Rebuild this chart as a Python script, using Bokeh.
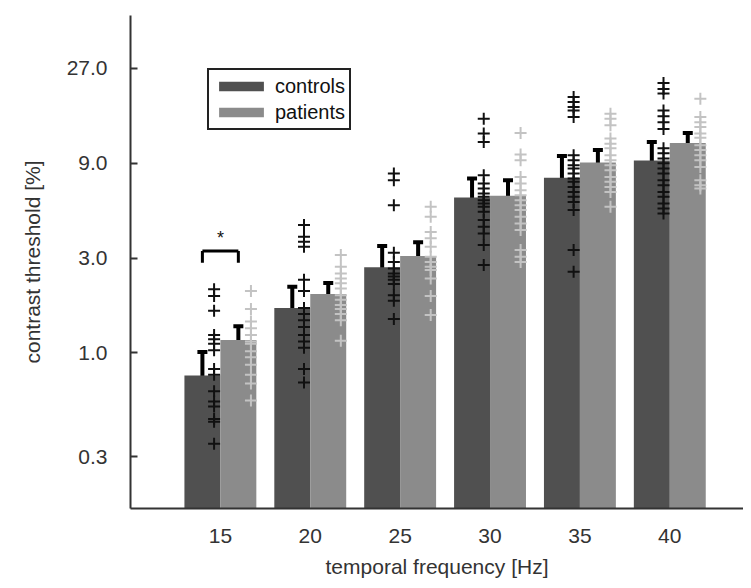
from bokeh.plotting import figure
from bokeh.models import (Range1d, FixedTicker, ColumnDataSource, Whisker, TeeHead,
                          Legend, LegendItem, PrintfTickFormatter)
from bokeh.core.properties import value
from bokeh.embed import file_html
from bokeh.resources import INLINE

# ---------------- data ----------------
freq_labels = ["15", "20", "25", "30", "35", "40"]

ctrl_mean = [0.77, 1.68, 2.70, 6.05, 7.60, 9.30]
pat_mean = [1.16, 1.98, 3.07, 6.17, 9.07, 11.4]

ctrl_lo = [0.59, 1.30, 2.13, 4.89, 5.90, 7.47]
ctrl_hi = [1.01, 2.15, 3.45, 7.54, 9.79, 11.5]
pat_lo = [1.00, 1.74, 2.66, 5.17, 7.93, 10.1]
pat_hi = [1.36, 2.25, 3.60, 7.39, 10.5, 12.8]

ctrl_15 = [2.09, 1.93, 1.63, 1.23, 1.17, 1.11, 1.03, 0.83, 0.775, 0.64, 0.569, 0.537, 0.465, 0.45, 0.349]
ctrl_20 = [4.40, 3.84, 3.62, 3.42, 2.33, 2.05, 1.68, 1.57, 1.46, 1.35, 1.23, 1.14, 1.06, 0.83, 0.71]
ctrl_25 = [7.99, 7.39, 5.53, 3.19, 2.87, 2.66, 2.51, 2.42, 2.33, 2.22, 1.95, 1.83, 1.48]
ctrl_30 = [15.1, 12.7, 11.5, 7.83, 7.12, 6.72, 6.34, 6.10, 5.87, 5.64, 5.43, 5.13, 4.66, 4.31, 3.99, 3.49, 2.77]
ctrl_35 = [19.4, 18.3, 17.3, 16.6, 15.4, 9.88, 9.32, 8.80, 8.47, 7.99, 7.54, 7.26, 6.84, 6.45, 6.10, 5.75, 5.23, 3.29, 2.56]
ctrl_40 = [22.8, 21.3, 20.2, 16.6, 15.5, 14.5, 13.4, 10.7, 10.1, 9.5, 9.0, 8.47, 7.99, 7.39, 6.98, 6.45, 6.10, 5.64, 5.33, 5.03]

pat_15 = [2.05, 1.66, 1.44, 1.33, 1.23, 1.14, 1.11, 1.02, 0.95, 0.87, 0.775, 0.70, 0.576]
pat_20 = [3.11, 2.71, 2.51, 2.37, 2.24, 2.11, 1.95, 1.85, 1.74, 1.66, 1.57, 1.46, 1.15]
pat_25 = [5.43, 4.84, 4.06, 3.77, 3.42, 3.05, 2.87, 2.71, 2.61, 2.37, 1.93, 1.55]
pat_30 = [12.8, 9.95, 9.32, 7.68, 7.12, 6.59, 6.22, 5.87, 5.53, 5.23, 4.84, 4.48, 4.15, 3.29, 3.05, 2.87]
pat_35 = [16.0, 15.1, 14.0, 12.0, 11.3, 10.7, 9.88, 9.32, 8.80, 8.30, 7.68, 7.26, 6.84, 6.45, 5.43]
pat_40 = [19.0, 15.4, 14.5, 13.7, 12.7, 12.1, 11.1, 10.5, 9.88, 9.32, 8.63, 7.39, 6.98, 6.72]

ctrl_points = [ctrl_15, ctrl_20, ctrl_25, ctrl_30, ctrl_35, ctrl_40]
pat_points = [pat_15, pat_20, pat_25, pat_30, pat_35, pat_40]

sig_group = [0]        # index of frequency with significant difference
sig_top = [3.26]
sig_foot = [2.84]
sig_star = [3.78]

y_ticks = [0.3, 1.0, 3.0, 9.0, 27.0]

x_title = "temporal frequency [Hz]"
y_title = "contrast threshold [%]"

# ---------------- styling ----------------
FONT = "Liberation Sans"
TXT = "#333333"
DARK = "#505050"
LIGHT = "#8b8b8b"
PAT_PT = "#c3c3c3"
BW = 0.4

pos = [i + 1 for i in range(len(freq_labels))]

p = figure(width=743, height=580, y_axis_type="log",
           x_range=Range1d(0, 6.82), y_range=Range1d(0.1646, 49.9),
           output_backend="svg", toolbar_location=None,
           min_border_left=130, min_border_right=0, min_border_top=15, min_border_bottom=71)
p.outline_line_color = None
p.xgrid.visible = False
p.ygrid.visible = False
p.background_fill_color = "white"
p.border_fill_color = "white"

bar_src = ColumnDataSource(dict(
    xc=[x - BW / 2 for x in pos], xp=[x + BW / 2 for x in pos],
    mc=ctrl_mean, mp=pat_mean, clo=ctrl_lo, chi=ctrl_hi, plo=pat_lo, phi=pat_hi))

r_ctrl = p.vbar(x="xc", top="mc", bottom=0.01, width=BW, source=bar_src,
                fill_color=DARK, line_color=None)
r_pat = p.vbar(x="xp", top="mp", bottom=0.01, width=BW, source=bar_src,
               fill_color=LIGHT, line_color=None)

# individual subjects
cx, cy, px_, py = [], [], [], []
for i, x in enumerate(pos):
    for v in ctrl_points[i]:
        cx.append(x - 0.07)
        cy.append(v)
    for v in pat_points[i]:
        px_.append(x + 0.34)
        py.append(v)
p.scatter(px_, py, marker="cross", size=12, line_width=2, line_color=PAT_PT)
p.scatter(cx, cy, marker="cross", size=12, line_width=2, line_color="#111111")

# error bars
for lo, hi, base in (("clo", "chi", "xc"), ("plo", "phi", "xp")):
    w = Whisker(base=base, lower=lo, upper=hi, source=bar_src, line_width=4, line_color="black",
                upper_head=TeeHead(size=10, line_width=4, line_color="black"),
                lower_head=TeeHead(size=10, line_width=4, line_color="black"))
    p.add_layout(w)

# significance bracket
sx0 = [pos[g] - BW / 2 for g in sig_group]
sx1 = [pos[g] + BW / 2 for g in sig_group]
p.segment(x0=sx0, y0=sig_top, x1=sx1, y1=sig_top, line_width=3, line_color="black")
p.segment(x0=sx0, y0=sig_top, x1=sx0, y1=sig_foot, line_width=3, line_color="black")
p.segment(x0=sx1, y0=sig_top, x1=sx1, y1=sig_foot, line_width=3, line_color="black")
p.text(x=[pos[g] for g in sig_group], y=sig_star, text=["*"] * len(sig_group),
       text_align="center", text_baseline="middle", text_font=value(FONT),
       text_font_size="18px", text_color="#111111")

# axes
p.xaxis.ticker = FixedTicker(ticks=pos)
p.xaxis.major_label_overrides = {x: lab for x, lab in zip(pos, freq_labels)}
p.xaxis.major_tick_line_color = None
p.xaxis.minor_tick_line_color = None
p.xaxis.major_label_standoff = 14
p.xaxis.axis_label = x_title
p.xaxis.axis_label_standoff = 9

p.yaxis.ticker = FixedTicker(ticks=y_ticks)
p.yaxis.formatter = PrintfTickFormatter(format="%.1f")
p.yaxis.major_tick_in = 7
p.yaxis.major_tick_out = 0
p.yaxis.minor_tick_line_color = None
p.yaxis.major_label_standoff = 23
p.yaxis.axis_label = y_title
p.yaxis.axis_label_standoff = 20

for ax in (p.xaxis[0], p.yaxis[0]):
    ax.axis_line_width = 2
    ax.axis_line_color = "#333333"
    ax.major_tick_line_width = 2
    ax.major_label_text_font = FONT
    ax.major_label_text_font_size = "21px"
    ax.major_label_text_color = TXT
    ax.axis_label_text_font = FONT
    ax.axis_label_text_font_size = "21px"
    ax.axis_label_text_font_style = "normal"
    ax.axis_label_text_color = TXT
p.yaxis.major_tick_line_color = "#333333"

legend = Legend(items=[LegendItem(label="controls", renderers=[r_ctrl]),
                       LegendItem(label="patients", renderers=[r_pat])],
                location=(77, 378), orientation="vertical")
legend.glyph_width = 56
legend.glyph_height = 12
legend.label_height = 24
legend.label_standoff = 6
legend.spacing = 2
legend.padding = 4
legend.margin = 0
legend.label_text_font = FONT
legend.label_text_font_size = "20px"
legend.label_text_color = "#111111"
legend.border_line_color = "#222222"
legend.border_line_width = 2.5
legend.border_line_alpha = 1.0
legend.background_fill_color = "white"
legend.background_fill_alpha = 1.0
p.add_layout(legend)

open("out.html", "w").write(file_html(p, INLINE))
